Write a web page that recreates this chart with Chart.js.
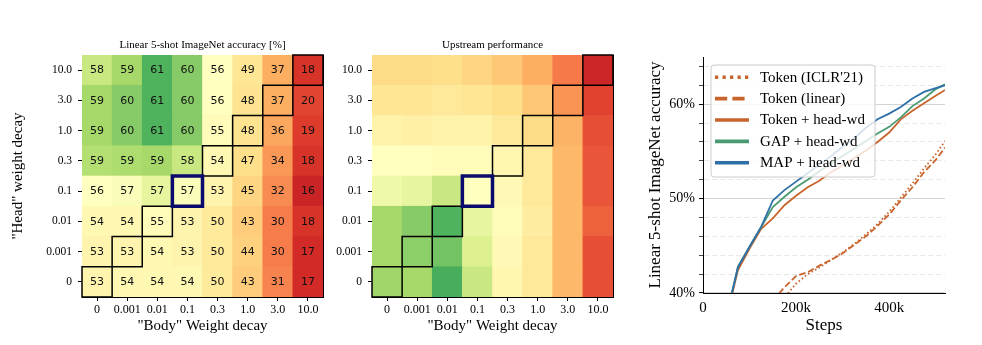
<!DOCTYPE html>
<html><head><meta charset="utf-8">
<script src="https://cdn.jsdelivr.net/npm/chart.js@4.4.1/dist/chart.umd.min.js"></script>
<style>
html,body{margin:0;padding:0;background:#fff;}
#wrap{position:relative;width:982px;height:345px;overflow:hidden;background:#fff;}
.box{position:absolute;top:0;height:345px;}
</style></head><body>
<div id="wrap">
<div class="box" style="left:0;width:330px"><canvas id="c1"></canvas></div>
<div class="box" style="left:330px;width:300px"><canvas id="c2"></canvas></div>
<div class="box" style="left:630px;width:352px"><canvas id="c3"></canvas></div>
</div>
<script>
// ---------------- DATA ----------------
const bodyDecay = ["0", "0.001", "0.01", "0.1", "0.3", "1.0", "3.0", "10.0"];
const headDecay = ["10.0", "3.0", "1.0", "0.3", "0.1", "0.01", "0.001", "0"]; // top to bottom
const selected = { body: "0.1", head: "0.1" };

// Linear 5-shot ImageNet accuracy [%], rows = headDecay (top to bottom), cols = bodyDecay
const fewShotAcc = [
  [58, 59, 61, 60, 56, 49, 37, 18],
  [59, 60, 61, 60, 56, 48, 37, 20],
  [59, 60, 61, 60, 55, 48, 36, 19],
  [58.6, 58.8, 59, 58, 54, 47, 34, 18],
  [56, 56.6, 57.4, 56.6, 53, 45, 32, 16],
  [54, 54, 55, 53, 50, 43, 30, 18],
  [53, 53, 54, 53, 50, 44, 30, 17],
  [53, 54, 54, 54, 50, 43, 31, 17]
];

// Upstream performance (relative score on the colour scale, 0-100)
const upstreamScore = [
  [39, 39, 40, 38, 35, 30, 22, 8],
  [42, 42, 43, 42, 40, 35, 26, 13],
  [46, 45, 46, 46, 43, 39, 31, 15],
  [50, 50, 49, 49, 47, 43, 32, 16],
  [54, 56, 63, 50, 48, 43, 32, 16],
  [70, 75, 83, 56, 49, 44, 32, 18],
  [70, 74, 78, 59, 48, 43, 32, 15],
  [71, 70, 84, 63, 47, 43, 32, 15]
];

// Training curves
const steps = [50000, 75000, 100000, 125000, 150000, 175000, 200000, 225000, 250000, 275000,
               300000, 325000, 350000, 375000, 400000, 425000, 450000, 475000, 500000, 520000];
const mapAcc   = [37.5, 42.7, 44.9, 47.0, 49.8, 50.9, 51.8, 52.7, 53.6, 54.5, 55.5, 56.4, 57.5, 58.4, 59.0, 59.7, 60.6, 61.3, 61.7, 62.0];
const gapAcc   = [37.3, 42.8, 44.9, 47.0, 49.1, 50.2, 51.2, 52.0, 52.9, 53.7, 54.5, 55.3, 56.1, 56.9, 57.6, 58.6, 59.8, 60.6, 61.6, 62.1];
const tokenAcc = [37.3, 42.4, 44.7, 46.8, 47.9, 49.3, 50.3, 51.2, 51.9, 52.8, 53.5, 54.3, 55.1, 56.0, 57.0, 58.4, 59.3, 60.1, 60.9, 61.5];

const tokenSteps = [150000, 175000, 200000, 225000, 250000, 275000, 300000, 325000, 350000, 375000,
                    400000, 425000, 450000, 475000, 500000, 520000];
const tokenLinearAcc = [39.2, 40.6, 41.8, 42.2, 42.9, 43.5, 44.2, 45.1, 46.0, 47.1, 48.3, 49.8, 51.2, 52.8, 54.1, 55.4];
const tokenIclrAcc   = [38.0, 39.5, 41.0, 42.0, 42.7, 43.5, 44.3, 45.2, 46.2, 47.3, 48.6, 50.1, 51.6, 53.2, 54.7, 56.1];

const yTicksAcc = [40, 42, 44, 46, 48, 50, 52, 54, 56, 58, 60, 62, 64];
const xTicksSteps = [0, 200000, 400000];

// ---------------- STYLE ----------------
const SERIF = '"Liberation Serif", "Times New Roman", "DejaVu Serif", serif';
const SANS = '"DejaVu Sans", sans-serif';
Chart.defaults.color = '#000';
Chart.defaults.font.family = SERIF;

const RDYLGN = [[165,0,38],[215,48,39],[244,109,67],[253,174,97],[254,224,139],[255,255,191],
                [217,239,139],[166,217,106],[102,189,99],[26,152,80],[0,104,55]];
function rdylgn(t) {
  t = Math.max(0, Math.min(1, t));
  const s = t * 10, i = Math.min(9, Math.floor(s)), f = s - i;
  const a = RDYLGN[i], b = RDYLGN[i + 1];
  return 'rgb(' + [0,1,2].map(k => Math.round(a[k] + (b[k] - a[k]) * f)).join(',') + ')';
}
// colour normalisation for the accuracy map
const accAnchors = [[15,0.06],[20,0.135],[30,0.225],[37,0.30],[43,0.36],[49,0.42],[53,0.465],
                    [56,0.50],[57,0.52],[58,0.63],[59,0.70],[60,0.75],[61,0.83]];
function accPos(v) {
  if (v <= accAnchors[0][0]) return accAnchors[0][1];
  for (let i = 1; i < accAnchors.length; i++) {
    const [x1, y1] = accAnchors[i - 1], [x2, y2] = accAnchors[i];
    if (v <= x2) return y1 + (y2 - y1) * (v - x1) / (x2 - x1);
  }
  return accAnchors[accAnchors.length - 1][1];
}

// ---------------- HEATMAPS ----------------
const heatDecor = {
  id: 'heatDecor',
  afterDraw(chart, args, opts) {
    const ctx = chart.ctx;
    const cells = [];
    chart.data.datasets.forEach((ds, di) => {
      chart.getDatasetMeta(di).data.forEach((el, ci) => {
        const p = el.getProps(['x', 'y', 'base', 'width'], true);
        const top = Math.min(p.y, p.base), bottom = Math.max(p.y, p.base);
        cells.push({ x: p.x, left: p.x - p.width / 2, w: p.width, top, h: bottom - top,
                     cy: (top + bottom) / 2, v: ds.cellValues[ci], head: ds.headLabel, body: bodyDecay[ci] });
      });
    });
    ctx.save();
    if (opts.showValues) {
      ctx.font = '11px ' + SANS;
      ctx.fillStyle = '#111';
      ctx.textAlign = 'center';
      ctx.textBaseline = 'middle';
      cells.forEach(c => ctx.fillText(String(Math.round(c.v)), c.x, c.cy + 0.5));
    }
    ctx.strokeStyle = '#000';
    ctx.lineWidth = 1.5;
    cells.filter(c => c.head === c.body && !(c.head === selected.head && c.body === selected.body))
         .forEach(c => ctx.strokeRect(c.left, c.top, c.w, c.h));
    ctx.strokeStyle = '#0b0b6e';
    ctx.lineWidth = 3.5;
    cells.filter(c => c.head === selected.head && c.body === selected.body)
         .forEach(c => ctx.strokeRect(c.left, c.top, c.w, c.h));
    ctx.restore();
  }
};

function makeHeatmap(canvasId, cfg) {
  const nRows = headDecay.length;
  const datasets = [];
  for (let r = 0; r < nRows; r++) {
    const rowIdx = nRows - 1 - r;
    const vals = cfg.values[rowIdx];
    datasets.push({
      label: headDecay[rowIdx],
      headLabel: headDecay[rowIdx],
      cellValues: vals,
      data: bodyDecay.map(() => 1),
      backgroundColor: vals.map(v => rdylgn(cfg.toPos(v))),
      borderWidth: 0,
      barPercentage: 1,
      categoryPercentage: 1
    });
  }
  return new Chart(document.getElementById(canvasId), {
    type: 'bar',
    data: { labels: bodyDecay, datasets },
    plugins: [heatDecor],
    options: {
      responsive: true, maintainAspectRatio: false, animation: false, events: [],
      layout: { padding: { left: 0, right: cfg.padRight, top: 0, bottom: 0 } },
      plugins: {
        legend: { display: false }, tooltip: { enabled: false },
        title: { display: true, text: cfg.title, fullSize: false, color: '#000',
                 font: { family: SERIF, size: 11, weight: 'normal', lineHeight: '12px' },
                 padding: { top: 39, bottom: 4 } },
        heatDecor: { showValues: cfg.showValues }
      },
      scales: {
        x: {
          type: 'category', stacked: true, offset: true,
          grid: { drawOnChartArea: false, drawTicks: true, tickLength: 4, color: '#000', tickColor: '#000', offset: false },
          border: { display: true, color: '#000', width: 1 },
          ticks: { autoSkip: false, maxRotation: 0, padding: 2, color: '#000', font: { family: SERIF, size: 12 } },
          title: { display: true, text: '"Body" Weight decay', color: '#000',
                   font: { family: SERIF, size: 15 }, padding: { top: 0, bottom: 10 } },
          afterFit: s => { s.height = 48; }
        },
        y: {
          type: 'linear', stacked: true, min: 0, max: nRows,
          afterBuildTicks: s => { s.ticks = headDecay.map((_, i) => ({ value: i + 0.5 })); },
          ticks: { autoSkip: false, padding: 6, color: '#000', font: { family: SERIF, size: 11.5 },
                   callback: v => headDecay[nRows - 1 - Math.floor(v)] },
          grid: { drawOnChartArea: false, drawTicks: true, tickLength: 4, color: '#000', tickColor: '#000' },
          border: { display: true, color: '#000', width: 1 },
          title: cfg.yTitle ? { display: true, text: cfg.yTitle, color: '#000',
                   font: { family: SERIF, size: 15 }, padding: { top: 9, bottom: 0 } } : { display: false },
          afterFit: s => { s.width = cfg.yAxisWidth; }
        },
        x2: {
          type: 'linear', position: 'top', min: 0, max: bodyDecay.length, offset: false, z: 1,
          ticks: { display: false, stepSize: 1 },
          grid: { color: 'rgba(0,0,0,0.3)', lineWidth: 1, drawTicks: false, offset: false },
          border: { display: true, color: '#000', width: 1 },
          afterFit: s => { s.height = 0; }
        },
        y2: {
          type: 'linear', position: 'right', min: 0, max: nRows, z: 1,
          ticks: { display: false, stepSize: 1 },
          grid: { color: 'rgba(0,0,0,0.3)', lineWidth: 1, drawTicks: false },
          border: { display: true, color: '#000', width: 1 },
          afterFit: s => { s.width = 0; }
        }
      }
    }
  });
}

makeHeatmap('c1', { values: fewShotAcc, toPos: accPos, showValues: true,
  title: 'Linear 5-shot ImageNet accuracy [%]', yTitle: '"Head" weight decay', yAxisWidth: 82, padRight: 7 });
makeHeatmap('c2', { values: upstreamScore, toPos: v => v / 100, showValues: false,
  title: 'Upstream performance', yTitle: null, yAxisWidth: 42, padRight: 17 });

// ---------------- LINE CHART ----------------
const ORANGE = '#c9652c', GREEN = '#4a9a72', BLUE = '#2e6fa8';
const series = [
  { label: "Token (ICLR'21)", xs: tokenSteps, ys: tokenIclrAcc, color: ORANGE, dash: [1.6, 2.4], legendDash: [3.3, 4.2], order: 4 },
  { label: 'Token (linear)', xs: tokenSteps, ys: tokenLinearAcc, color: ORANGE, dash: [6.5, 2.8], legendDash: [12.2, 5.2], order: 3 },
  { label: 'Token + head-wd', xs: steps, ys: tokenAcc, color: ORANGE, dash: [], legendDash: [], order: 2 },
  { label: 'GAP + head-wd', xs: steps, ys: gapAcc, color: GREEN, dash: [], legendDash: [], order: 1 },
  { label: 'MAP + head-wd', xs: steps, ys: mapAcc, color: BLUE, dash: [], legendDash: [], order: 0 }
];

const boxLegend = {
  id: 'boxLegend',
  afterDraw(chart) {
    const ctx = chart.ctx, ca = chart.chartArea;
    const bx = ca.left + 8, by = ca.top + 8, bw = 164, bh = 112, r = 3;
    ctx.save();
    ctx.beginPath();
    ctx.moveTo(bx + r, by); ctx.lineTo(bx + bw - r, by); ctx.arcTo(bx + bw, by, bx + bw, by + r, r);
    ctx.lineTo(bx + bw, by + bh - r); ctx.arcTo(bx + bw, by + bh, bx + bw - r, by + bh, r);
    ctx.lineTo(bx + r, by + bh); ctx.arcTo(bx, by + bh, bx, by + bh - r, r);
    ctx.lineTo(bx, by + r); ctx.arcTo(bx, by, bx + r, by, r); ctx.closePath();
    ctx.fillStyle = 'rgba(255,255,255,0.8)'; ctx.fill();
    ctx.strokeStyle = '#cccccc'; ctx.lineWidth = 1; ctx.stroke();
    ctx.font = '15px ' + SERIF; ctx.textBaseline = 'middle'; ctx.textAlign = 'left';
    chart.data.datasets.forEach((ds, k) => {
      const cy = by + 12.3 + k * 21.35;
      ctx.strokeStyle = ds.borderColor; ctx.lineWidth = 3.6; ctx.lineCap = 'butt';
      ctx.setLineDash(ds.legendDash);
      ctx.beginPath(); ctx.moveTo(bx + 4, cy); ctx.lineTo(bx + 38, cy); ctx.stroke();
      ctx.setLineDash([]);
      ctx.fillStyle = '#000';
      ctx.fillText(ds.label, bx + 49, cy + 0.5);
    });
    ctx.restore();
  }
};

new Chart(document.getElementById('c3'), {
  type: 'line',
  data: {
    datasets: series.map(s => ({
      label: s.label,
      data: s.xs.map((x, i) => ({ x, y: s.ys[i] })),
      borderColor: s.color, backgroundColor: s.color,
      borderWidth: 1.8, borderDash: s.dash, legendDash: s.legendDash,
      pointRadius: 0, tension: 0, fill: false, order: s.order
    }))
  },
  plugins: [boxLegend],
  options: {
    responsive: true, maintainAspectRatio: false, animation: false, events: [],
    layout: { padding: { left: 0, right: 37, top: 57, bottom: 0 } },
    plugins: { legend: { display: false }, tooltip: { enabled: false }, title: { display: false } },
    scales: {
      x: {
        type: 'linear', min: 0, max: 520000,
        afterBuildTicks: s => { s.ticks = xTicksSteps.map(v => ({ value: v })); },
        ticks: { padding: 6, color: '#000', font: { family: SERIF, size: 15 }, maxRotation: 0,
                 callback: v => v === 0 ? '0' : (v / 1000) + 'k' },
        grid: { display: false, drawTicks: false },
        border: { display: true, color: '#000', width: 1 },
        title: { display: true, text: 'Steps', color: '#000', font: { family: SERIF, size: 17 },
                 padding: { top: 0, bottom: 9 } },
        afterFit: s => { s.height = 52; }
      },
      y: {
        type: 'linear', min: 40, max: 65,
        afterBuildTicks: s => { s.ticks = yTicksAcc.map(v => ({ value: v })); },
        ticks: { autoSkip: false, padding: 4, color: '#000', font: { family: SERIF, size: 14 },
                 callback: v => (v % 10 === 0 ? v + '%' : '') },
        grid: {
          drawTicks: true, tickLength: 4,
          color: c => (c.tick && c.tick.value % 10 === 0 ? '#d4d4d4' : '#e6e6e6'),
          lineWidth: c => (c.tick && c.tick.value % 10 === 0 ? 1.1 : 0.9),
          tickColor: '#000',
          tickWidth: c => (c.tick && c.tick.value % 10 === 0 ? 1 : 0.7)
        },
        border: { display: true, color: '#000', width: 1,
                  dash: c => (c.tick && c.tick.value % 10 !== 0 ? [5.5, 2.5] : []) },
        title: { display: true, text: 'Linear 5-shot ImageNet accuracy', color: '#000',
                 font: { family: SERIF, size: 17 }, padding: { top: 15, bottom: 0 } },
        afterFit: s => { s.width = 73; }
      }
    }
  }
});
</script>
</body></html>
